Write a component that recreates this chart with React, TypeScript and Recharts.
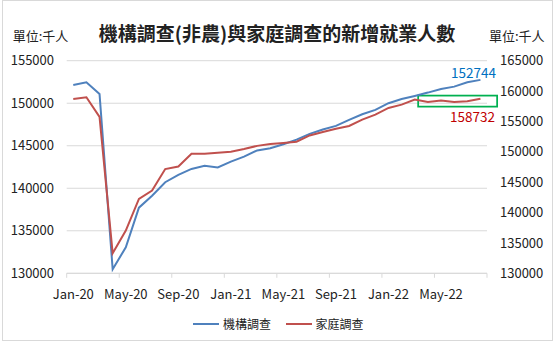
import React from 'react';
import { LineChart, Line, XAxis, YAxis, CartesianGrid, Legend, LabelList, ReferenceArea } from 'recharts';

const months = [
  'Jan-20', 'Feb-20', 'Mar-20', 'Apr-20', 'May-20', 'Jun-20', 'Jul-20', 'Aug-20', 'Sep-20', 'Oct-20', 'Nov-20', 'Dec-20',
  'Jan-21', 'Feb-21', 'Mar-21', 'Apr-21', 'May-21', 'Jun-21', 'Jul-21', 'Aug-21', 'Sep-21', 'Oct-21', 'Nov-21', 'Dec-21',
  'Jan-22', 'Feb-22', 'Mar-22', 'Apr-22', 'May-22', 'Jun-22', 'Jul-22', 'Aug-22',
];

const establishment = [
  152150, 152470, 151090, 130470, 133060, 137720, 139130, 140710, 141570, 142270, 142640, 142440,
  143130, 143720, 144450, 144700, 145180, 145720, 146390, 146900, 147330, 148040, 148700, 149210,
  150000, 150500, 150860, 151250, 151680, 151950, 152470, 152744,
];

const household = [
  158710, 158975, 155740, 133300, 137030, 142260, 143630, 147160, 147590, 149690, 149700, 149850,
  150015, 150460, 150980, 151280, 151450, 151665, 152700, 153265, 153810, 154250, 155300, 156120,
  157225, 157770, 158590, 158215, 158430, 158215, 158315, 158732,
];

const leftTicks = [130000, 135000, 140000, 145000, 150000, 155000];
const rightTicks = [130000, 135000, 140000, 145000, 150000, 155000, 160000, 165000];
const seriesNames = ['機構調查', '家庭調查'];
const titleText = '機構調查(非農)與家庭調查的新增就業人數';
const unitText = '單位:千人';
const boxRange = { fromMonth: 'Mar-22', toMonth: 'Aug-22', low: 157440, high: 159255 };

const data = months.map((m, i) => ({ month: m, est: establishment[i], hh: household[i] }));

const W = 554;
const H = 342;
const LEFT_W = 66.7;
const RIGHT_W = 67;
const TOP = 60.7;
const AXIS_Y = 273.3;
const XAXIS_H = 30;
const PLOT_W = W - LEFT_W - RIGHT_W;
const STEP = PLOT_W / months.length;
const HALF = STEP / 2;
const FONT = '"Noto Sans CJK TC", "Noto Sans", sans-serif';
const TEXT = '#222';
const GRID = '#d9d9d9';
const BLUE = '#4F81BD';
const RED = '#C0504D';
const LAST = months.length - 1;

const XTick = (props: any) => {
  const { x, y, payload } = props;
  const isLastShown = payload && payload.index !== undefined ? payload.index + 4 > LAST : false;
  return (
    <g>
      <line x1={x - HALF} x2={x - HALF} y1={y} y2={y + 4.5} stroke={GRID} strokeWidth={1} />
      {isLastShown && (
        <line x1={x + HALF + 3 * STEP} x2={x + HALF + 3 * STEP} y1={y} y2={y + 4.5} stroke={GRID} strokeWidth={1} />
      )}
      <text x={x} y={y + 20.3} textAnchor="middle" dominantBaseline="central" fill={TEXT} fontSize={13} fontFamily={FONT}>
        {payload.value}
      </text>
    </g>
  );
};

const makeEndLabel = (color: string, dx: number, dy: number) => (p: any) => {
  if (p.index !== LAST) return null;
  const x = p.x ?? p.viewBox?.x;
  const y = p.y ?? p.viewBox?.y;
  return (
    <text x={x + dx} y={y + dy} textAnchor="middle" dominantBaseline="central" fill={color} fontSize={13.5} fontFamily={FONT}>
      {p.value}
    </text>
  );
};

const BoxShape = (p: any) => (
  <rect
    x={p.x + 3.4}
    y={p.y}
    width={p.width + 13.3}
    height={p.height}
    fill="none"
    stroke="#00B050"
    strokeWidth={1.75}
  />
);

const renderLegend = (props: any) => {
  const payload = [...(props.payload || [])].sort(
    (a: any, b: any) => seriesNames.indexOf(a.value) - seriesNames.indexOf(b.value),
  );
  return (
    <div style={{ display: 'flex', justifyContent: 'center', alignItems: 'center', paddingLeft: 3, fontFamily: FONT }}>
      {payload.map((item: any, i: number) => (
        <div key={i} style={{ display: 'flex', alignItems: 'center', marginLeft: i === 0 ? 0 : 15 }}>
          <svg width={26} height={6} style={{ marginRight: 3.5 }}>
            <line x1={0} x2={26} y1={3} y2={3} stroke={item.color} strokeWidth={2} />
          </svg>
          <span style={{ fontSize: 12, color: TEXT, lineHeight: '20px' }}>{item.value}</span>
        </div>
      ))}
    </div>
  );
};

export default function App() {
  return (
    <div style={{ position: 'relative', width: W, height: H, background: '#fff', fontFamily: FONT }}>
      <style>{'body{margin:0;}'}</style>
      <LineChart
        width={W}
        height={H}
        data={data}
        margin={{ top: TOP, right: 0, left: 0, bottom: H - AXIS_Y - XAXIS_H }}
      >
        <CartesianGrid vertical={false} stroke={GRID} yAxisId="left" />
        <XAxis
          dataKey="month"
          padding={{ left: HALF, right: HALF }}
          interval={3}
          tickLine={false}
          tickSize={0}
          tickMargin={0}
          height={XAXIS_H}
          axisLine={{ stroke: GRID }}
          tick={<XTick />}
        />
        <YAxis
          yAxisId="left"
          orientation="left"
          width={LEFT_W}
          domain={[130000, 155000]}
          ticks={leftTicks}
          interval={0}
          axisLine={false}
          tickLine={false}
          tickSize={0}
          tickMargin={12.7}
          tick={{ fill: TEXT, fontSize: 13, fontFamily: FONT }}
        />
        <YAxis
          yAxisId="right"
          orientation="right"
          width={RIGHT_W}
          domain={[130000, 165000]}
          ticks={rightTicks}
          interval={0}
          axisLine={false}
          tickLine={false}
          tickSize={0}
          tickMargin={13}
          tick={{ fill: TEXT, fontSize: 13, fontFamily: FONT }}
        />
        <Line
          yAxisId="left"
          type="linear"
          dataKey="est"
          name={seriesNames[0]}
          stroke={BLUE}
          strokeWidth={2}
          dot={false}
          activeDot={false}
          isAnimationActive={false}
        >
          <LabelList dataKey="est" content={makeEndLabel('#0070C0', -7, -7.5)} />
        </Line>
        <Line
          yAxisId="right"
          type="linear"
          dataKey="hh"
          name={seriesNames[1]}
          stroke={RED}
          strokeWidth={2}
          dot={false}
          activeDot={false}
          isAnimationActive={false}
        >
          <LabelList dataKey="hh" content={makeEndLabel('#C00000', -8, 17)} />
        </Line>
        <ReferenceArea
          yAxisId="right"
          x1={boxRange.fromMonth}
          x2={boxRange.toMonth}
          y1={boxRange.low}
          y2={boxRange.high}
          ifOverflow="visible"
          shape={<BoxShape />}
        />
        <Legend
          layout="horizontal"
          verticalAlign="middle"
          align="center"
          itemSorter={null as any}
          content={renderLegend}
          wrapperStyle={{ top: 313.6, left: 0, width: W, height: 20 }}
        />
      </LineChart>
      <div
        style={{
          position: 'absolute', left: 0, top: 18, width: W, height: 30, lineHeight: '30px',
          textAlign: 'center', fontSize: 19, fontWeight: 'bold', color: TEXT, pointerEvents: 'none',
        }}
      >
        {titleText}
      </div>
      <div style={{ position: 'absolute', left: 12.7, top: 26, height: 20, lineHeight: '20px', fontSize: 13, color: TEXT }}>
        {unitText}
      </div>
      <div style={{ position: 'absolute', left: 489, top: 26, height: 20, lineHeight: '20px', fontSize: 13, color: TEXT }}>
        {unitText}
      </div>
      <div
        style={{
          position: 'absolute', left: 2, top: 0, width: 549, height: 339,
          border: '1px solid #d9d9d9', pointerEvents: 'none',
        }}
      />
    </div>
  );
}
